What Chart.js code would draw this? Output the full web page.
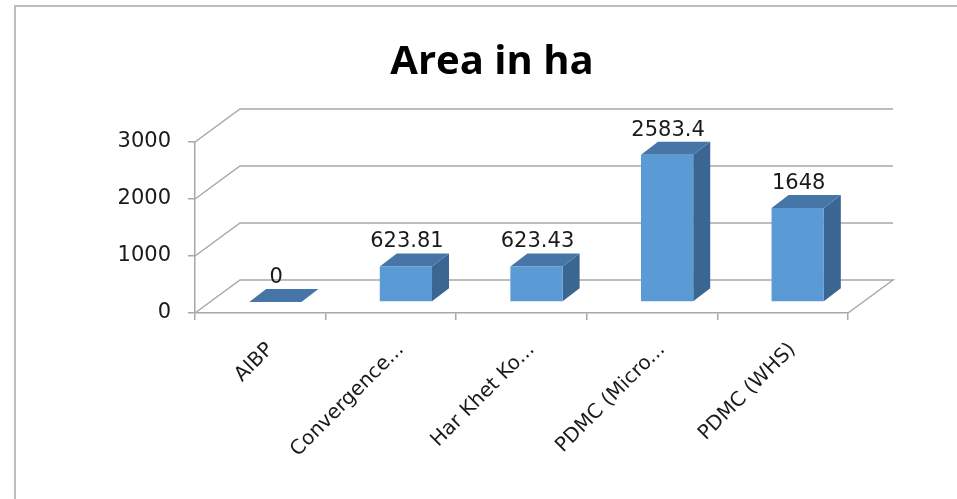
<!DOCTYPE html>
<html>
<head>
<meta charset="utf-8">
<title>Area in ha</title>
<script src="https://cdn.jsdelivr.net/npm/chart.js@4.4.1/dist/chart.umd.min.js"></script>
<style>
  html, body { margin: 0; padding: 0; background: #fff; }
  #wrap { width: 957px; height: 499px; }
</style>
</head>
<body>
<div id="wrap"><canvas id="areaChart" width="957" height="499"></canvas></div>
<script>
const chartTitle = "Area in ha";
const categories = ["AIBP", "Convergence...", "Har Khet Ko...", "PDMC (Micro...", "PDMC (WHS)"];
const areaValues = [0, 623.81, 623.43, 2583.4, 1648];
const yTicks = [0, 1000, 2000, 3000];

const TEXT_FONT = "'DejaVu Sans', sans-serif";
const TITLE_FONT = "'Open Sans', 'DejaVu Sans', sans-serif";
const GRID = "#a8a8a8";

// depth of the box the walls sit on, and where the bars sit inside it
const depth = { dx: 45, dy: -33 };
const barShift = { dx: 15, dy: -11 };
const barDepth = { dx: 17, dy: -13 };

const faceTop = "#4676a7";
const faceSide = "#3a6691";

const frame3d = {
  id: "frame3d",
  beforeDraw(chart) {
    const ctx = chart.ctx;
    ctx.save();
    ctx.strokeStyle = "#bdbdbd";
    ctx.lineWidth = 2;
    ctx.beginPath();
    ctx.moveTo(15, 499);
    ctx.lineTo(15, 6);
    ctx.lineTo(957, 6);
    ctx.stroke();

    ctx.fillStyle = "#000";
    ctx.font = "bold 40px " + TITLE_FONT;
    ctx.textAlign = "center";
    ctx.textBaseline = "alphabetic";
    ctx.fillText(chartTitle, 492, 74);
    ctx.restore();
  },
  beforeDatasetsDraw(chart) {
    const ctx = chart.ctx;
    const area = chart.chartArea;
    const y = chart.scales.y;

    // back wall + left wall lines
    ctx.save();
    ctx.strokeStyle = GRID;
    ctx.lineWidth = 1.5;
    yTicks.forEach((v) => {
      const py = y.getPixelForValue(v);
      ctx.beginPath();
      ctx.moveTo(area.left, py);
      ctx.lineTo(area.left + depth.dx, py + depth.dy);
      ctx.lineTo(area.right + depth.dx, py + depth.dy);
      if (v === 0) ctx.lineTo(area.right, py);
      ctx.stroke();
    });
    ctx.restore();

    // top and side faces of each bar
    const meta = chart.getDatasetMeta(0);
    ctx.save();
    meta.data.forEach((bar) => {
      const l = bar.x - bar.width / 2 + barShift.dx;
      const r = bar.x + bar.width / 2 + barShift.dx;
      const t = bar.y + barShift.dy;
      const b = bar.base + barShift.dy;
      ctx.fillStyle = faceSide;
      ctx.beginPath();
      ctx.moveTo(r, t);
      ctx.lineTo(r + barDepth.dx, t + barDepth.dy);
      ctx.lineTo(r + barDepth.dx, b + barDepth.dy);
      ctx.lineTo(r, b);
      ctx.closePath();
      ctx.fill();
      ctx.fillStyle = faceTop;
      ctx.beginPath();
      ctx.moveTo(l, t);
      ctx.lineTo(r, t);
      ctx.lineTo(r + barDepth.dx, t + barDepth.dy);
      ctx.lineTo(l + barDepth.dx, t + barDepth.dy);
      ctx.closePath();
      ctx.fill();
    });
    ctx.restore();

    // front faces are drawn by the chart, pushed back into the box
    ctx.save();
    ctx.translate(barShift.dx, barShift.dy);
  },
  afterDatasetsDraw(chart) {
    const ctx = chart.ctx;
    ctx.restore();

    const meta = chart.getDatasetMeta(0);
    ctx.save();
    ctx.fillStyle = "#1a1a1a";
    ctx.font = "21px " + TEXT_FONT;
    ctx.textAlign = "center";
    ctx.textBaseline = "alphabetic";
    meta.data.forEach((bar, i) => {
      ctx.fillText(String(areaValues[i]), bar.x + barShift.dx + 1, bar.y + barShift.dy - 19);
    });
    ctx.restore();
  },
};

new Chart("areaChart", {
  type: "bar",
  data: {
    labels: categories,
    datasets: [
      {
        label: chartTitle,
        data: areaValues,
        backgroundColor: "#5b9bd5",
        borderWidth: 0,
        barPercentage: 0.4,
        categoryPercentage: 1,
        clip: false,
      },
    ],
  },
  options: {
    responsive: false,
    animation: false,
    layout: {
      padding: { top: 142, left: 110, right: 109, bottom: 0 },
    },
    plugins: {
      legend: { display: false },
      tooltip: { enabled: false },
      title: { display: false },
    },
    scales: {
      x: {
        grid: {
          offset: true,
          drawOnChartArea: false,
          drawTicks: true,
          tickLength: 7,
          color: GRID,
          lineWidth: 1.5,
        },
        border: { display: true, color: GRID, width: 1.5 },
        ticks: {
          color: "#1a1a1a",
          font: { family: TEXT_FONT, size: 20 },
          minRotation: 45,
          maxRotation: 45,
          autoSkip: false,
          padding: 18,
          labelOffset: 10,
        },
        afterFit(scale) {
          scale.height = 186;
        },
      },
      y: {
        min: 0,
        max: 3000,
        grid: {
          drawOnChartArea: false,
          drawTicks: true,
          tickLength: 7,
          color: GRID,
          lineWidth: 1.5,
        },
        border: { display: true, color: GRID, width: 1.5 },
        ticks: {
          stepSize: 1000,
          color: "#1a1a1a",
          font: { family: TEXT_FONT, size: 21 },
          padding: 17,
          callback: (value) => String(value),
        },
        afterFit(scale) {
          scale.width = 85;
        },
      },
    },
  },
  plugins: [frame3d],
});
</script>
</body>
</html>
